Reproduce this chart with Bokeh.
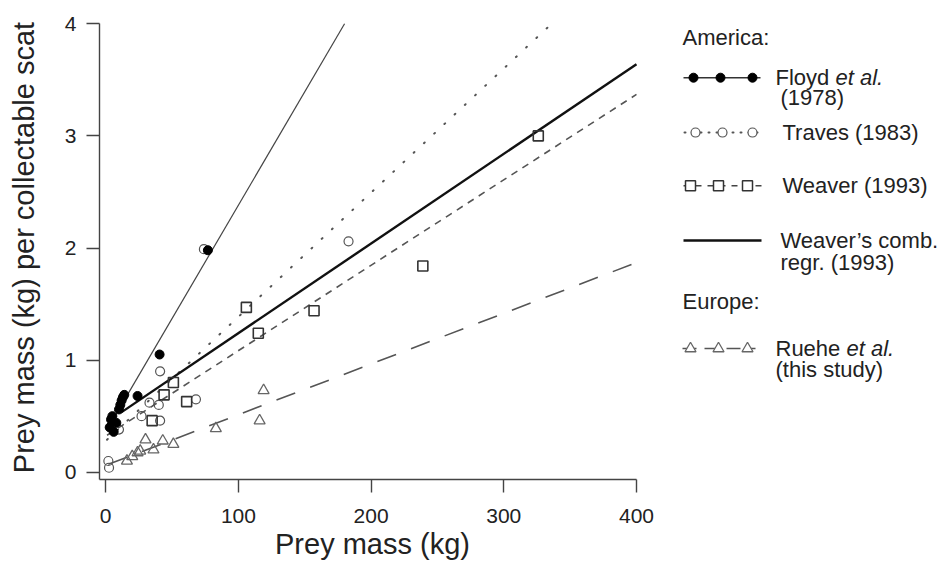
from bokeh.plotting import figure
from bokeh.models import Range1d, LinearAxis, FixedTicker, Label
from bokeh.layouts import row
from bokeh.embed import file_html
from bokeh.resources import INLINE

# ---------------- data ----------------
floyd_x = [3, 4, 5, 6, 8, 10, 11, 12, 13, 14, 24, 40.6, 77]
floyd_y = [0.40, 0.47, 0.50, 0.36, 0.44, 0.56, 0.60, 0.64, 0.67, 0.69, 0.68, 1.05, 1.98]

traves_x = [2, 2.5, 10, 27, 33, 40, 41, 41, 68, 74, 183]
traves_y = [0.10, 0.04, 0.38, 0.50, 0.62, 0.60, 0.46, 0.90, 0.65, 1.99, 2.06]

weaver_x = [35, 44, 51, 61, 106, 115, 157, 239, 326]
weaver_y = [0.46, 0.69, 0.80, 0.63, 1.47, 1.24, 1.44, 1.84, 3.00]

ruehe_x = [16, 20, 24, 26, 30, 36, 43, 51, 83, 116, 119]
ruehe_y = [0.10, 0.14, 0.175, 0.19, 0.29, 0.20, 0.28, 0.25, 0.39, 0.46, 0.73]

# regression lines (end points)
floyd_line_x = [3, 180]
floyd_line_y = [0.42, 4.0]
traves_line_x = [1, 336]
traves_line_y = [0.29, 4.0]
weaver_line_x = [1, 400]
weaver_line_y = [0.33, 3.37]
comb_line_x = [12, 400]
comb_line_y = [0.536, 3.64]
ruehe_line_x = [2, 400]
ruehe_line_y = [0.07, 1.87]

x_ticks = [0, 100, 200, 300, 400]
y_ticks = [0, 1, 2, 3, 4]
x_title = "Prey mass (kg)"
y_title = "Prey mass (kg) per collectable scat"

FONT = "Liberation Sans"
TXT = "#222222"

# ---------------- main plot ----------------
x0, x1 = -4.68, 406.8
y0, y1 = -0.065, 4.074
p = figure(width=665, height=567, x_range=Range1d(x0, x1), y_range=Range1d(y0, y1),
           output_backend="svg", toolbar_location=None,
           x_axis_type=None, y_axis_type=None,
           min_border_left=99, min_border_right=20, min_border_top=15, min_border_bottom=88)
p.outline_line_color = None
p.background_fill_color = "white"
p.border_fill_color = "white"

def style_axis(ax):
    ax.major_tick_in = 0
    ax.major_tick_out = 13
    ax.minor_tick_in = 0
    ax.minor_tick_out = 0
    ax.axis_line_color = "#444444"
    ax.axis_line_width = 1.4
    ax.major_tick_line_color = "#444444"
    ax.major_tick_line_width = 1.4
    ax.major_label_text_font = FONT
    ax.major_label_text_font_size = "21px"
    ax.major_label_text_color = TXT
    ax.axis_label_text_font = FONT
    ax.axis_label_text_font_size = "29px"
    ax.axis_label_text_font_style = "normal"
    ax.axis_label_text_color = TXT

xa = LinearAxis(ticker=FixedTicker(ticks=x_ticks), bounds=(x0, 400), axis_label=x_title)
style_axis(xa)
xa.major_label_standoff = 16
xa.axis_label_standoff = 2
p.add_layout(xa, "below")

ya = LinearAxis(ticker=FixedTicker(ticks=y_ticks), bounds=(y0, 4), axis_label=y_title)
style_axis(ya)
ya.major_label_standoff = 10
ya.axis_label_standoff = 22
p.add_layout(ya, "left")

# lines
p.line(floyd_line_x, floyd_line_y, line_color="#444444", line_width=1.2)
p.line(traves_line_x, traves_line_y, line_color="#555555", line_width=2, line_dash="1 13", line_cap="round")
p.line(weaver_line_x, weaver_line_y, line_color="#555555", line_width=1.6, line_dash="7 6")
p.line(comb_line_x, comb_line_y, line_color="#111111", line_width=2.4)
p.line(ruehe_line_x, ruehe_line_y, line_color="#555555", line_width=1.6, line_dash="20 16")

# points
p.scatter(traves_x, traves_y, marker="circle", size=9, fill_color=None,
          line_color="#555555", line_width=1.2)
p.scatter(weaver_x, weaver_y, marker="square", size=10, fill_color=None,
          line_color="#333333", line_width=1.6)
p.scatter(ruehe_x, ruehe_y, marker="triangle", size=11, fill_color=None,
          line_color="#666666", line_width=1.3)
p.scatter(floyd_x, floyd_y, marker="circle", size=9, fill_color="black",
          line_color="black", line_width=1)

# ---------------- legend panel ----------------
LW, LH = 278, 567
q = figure(width=LW, height=LH, x_range=Range1d(0, LW), y_range=Range1d(LH, 0),
           output_backend="svg", toolbar_location=None,
           x_axis_type=None, y_axis_type=None, min_border=0)
q.outline_line_color = None
q.border_fill_color = "white"

def label(x, y, text, style="normal"):
    q.add_layout(Label(x=x, y=y, text=text, text_font=FONT, text_font_size="22px",
                       text_color=TXT, text_baseline="middle", text_align="left",
                       text_font_style=style))

label(17, 27, "America:")

# Floyd
q.line([18, 95], [76, 76], line_color="#333333", line_width=1.5)
q.scatter([28, 55, 87], [76, 76, 76], marker="circle", size=9, fill_color="black", line_color="black")
label(110, 76, "Floyd")
label(170, 76, "et al.", "italic")
label(115, 100, "(1978)")

# Traves
q.line([19, 95], [143, 143], line_color="#555555", line_width=2, line_dash="1 7", line_cap="round")
q.scatter([30, 57, 87], [143, 143, 143], marker="circle", size=9, fill_color="white",
          line_color="#555555", line_width=1.2)
label(117, 143, "Traves (1983)")

# Weaver
q.line([18, 97], [208, 208], line_color="#444444", line_width=1.5, line_dash="6 6")
q.scatter([25, 53, 82], [208, 208, 208], marker="square", size=10, fill_color="white",
          line_color="#333333", line_width=1.5)
label(117, 208, "Weaver (1993)")

# Weaver combined
q.line([18, 96], [275, 275], line_color="#111111", line_width=2.6)
label(115, 275, "Weaver\u2019s comb.")
label(115, 302, "regr. (1993)")

label(17, 350, "Europe:")

# Ruehe
q.line([17, 90], [407, 407], line_color="#555555", line_width=1.5, line_dash="14 8")
q.scatter([25, 53, 82], [407, 407, 407], marker="triangle", size=11, fill_color="white",
          line_color="#666666", line_width=1.3)
label(110, 407, "Ruehe")
label(181, 407, "et al.", "italic")
label(110, 432, "(this study)")

layout = row(p, q)
open("out.html", "w").write(file_html(layout, INLINE))
